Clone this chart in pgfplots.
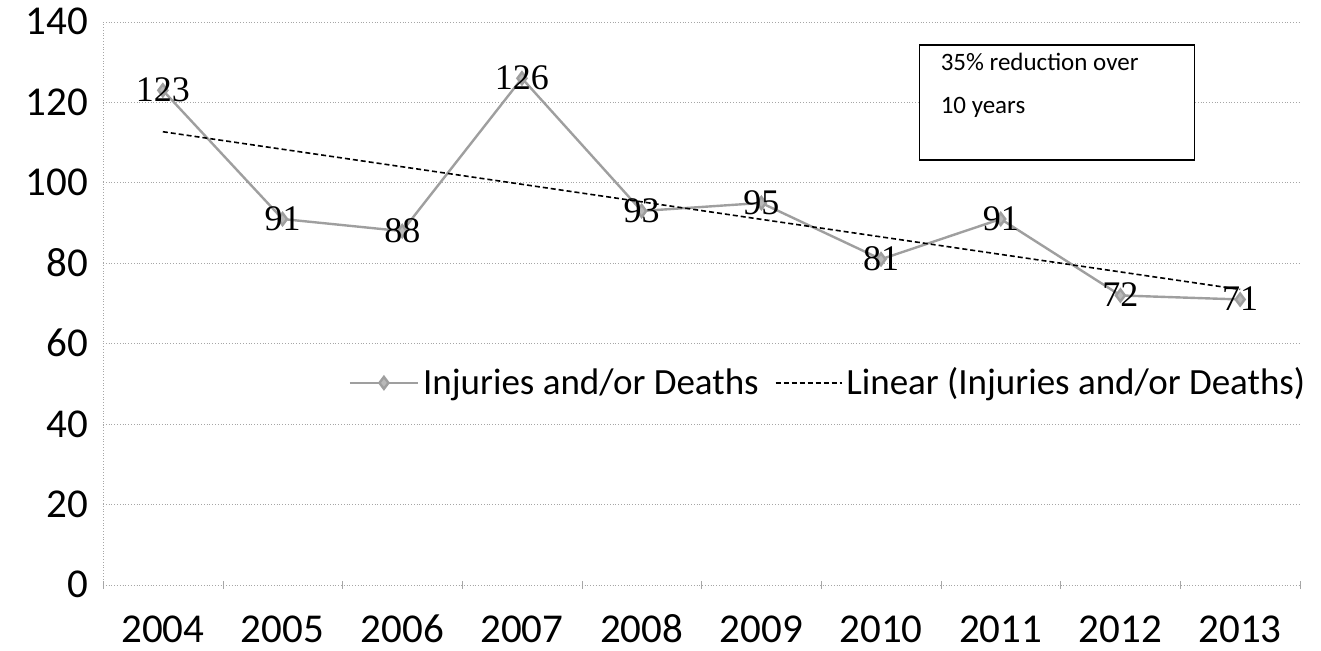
\documentclass[border=0pt]{standalone}
\usepackage{fontspec}
\setmainfont{Carlito}
\newfontfamily\serifnum{Liberation Serif}
\usepackage{pgfplots}
\pgfplotsset{compat=1.18}
\pgfplotsset{
  legA/.style={legend image code/.code={\draw[mark repeat=2, mark phase=2, ##1] plot coordinates {(0pt,0pt) (17pt,0pt) (34pt,0pt)};}},
  legB/.style={legend image code/.code={\draw[##1] (0pt,0pt) -- (33pt,0pt);}},
}
\begin{document}
\begin{tikzpicture}
\begin{axis}[
  at={(0,0)}, anchor=south west,
  scale only axis, width=598.5pt, height=281.5pt,
  xmin=-0.5, xmax=9.5, ymin=0, ymax=140,
  xtick={0,...,9}, xticklabels={2004,2005,2006,2007,2008,2009,2010,2011,2012,2013},
  ytick={0,20,...,140},
  minor xtick={-0.5,0.5,...,9.5},
  major tick length=0pt, minor tick length=4pt,
  tick align=outside, minor tick style={gray!70},
  ymajorgrids, grid style={densely dotted, gray!70},
  axis lines=left, axis line style={-, densely dotted, gray!70},
  /pgf/number format/assume math mode=true,
  tick label style={font=\fontsize{20.5}{22}\selectfont},
  yticklabel style={xshift=-4pt, text height=13pt, text depth=0pt},
  xticklabel style={anchor=north, yshift=-12pt, text height=13pt, text depth=0pt},
  legend style={at={(0.6065,0.359)}, anchor=center, draw=none, fill=none,
    font=\fontsize{18.5}{20}\selectfont,
    nodes={inner sep=2pt},
    /tikz/every even column/.append style={column sep=6pt}},
  legend columns=2,
  clip=false,
]
\addplot[gray!75, line width=1.2pt, mark=diamond*, mark size=3pt,
  mark options={fill=gray!55, draw=gray!75}, legA,
  nodes near coords,
  nodes near coords style={anchor=center, text=black, font=\serifnum\fontsize{18}{20}\selectfont,
    text height=11.5pt, text depth=0pt, inner sep=0pt}]
  coordinates {(0,123) (1,91) (2,88) (3,126) (4,93) (5,95) (6,81) (7,91) (8,72) (9,71)};
\addlegendentry{Injuries and/or Deaths}
\addplot[black, line width=0.8pt, dash pattern=on 2.5pt off 1.5pt, legB]
  coordinates {(0,112.71) (9,73.49)};
\addlegendentry{Linear (Injuries and/or Deaths)}
\draw[black, line width=0.8pt, fill=white] (axis cs:6.32,105.7) rectangle (axis cs:8.62,134.3);
\node[anchor=north west, align=left, font=\fontsize{12.5}{21.5}\selectfont, inner sep=0pt]
  at ([xshift=10.5pt, yshift=-4pt]axis cs:6.32,134.3) {35\% reduction over\\10 years};
\end{axis}
\pgfresetboundingbox
\path (-51.5pt,-33pt) rectangle (609pt,292.5pt);
\end{tikzpicture}
\end{document}
